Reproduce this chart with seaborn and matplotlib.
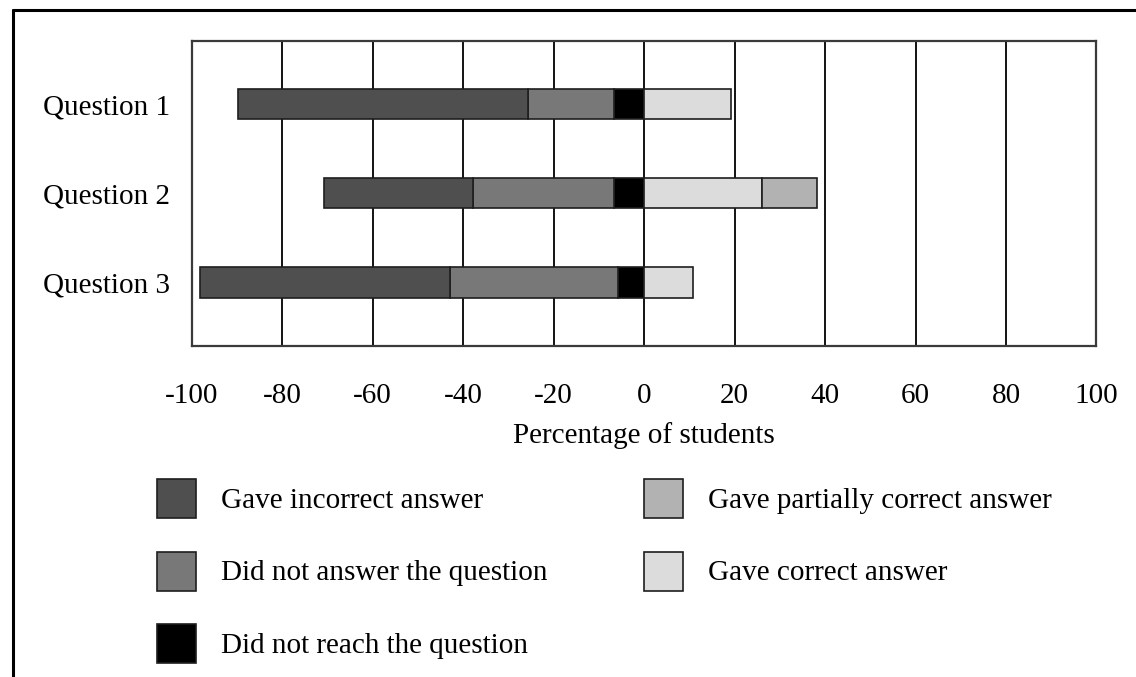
import numpy as np
import pandas as pd
import matplotlib
matplotlib.use("Agg")
import matplotlib.pyplot as plt
import seaborn as sns
from matplotlib.patches import Patch
from matplotlib.lines import Line2D

# ---------------- data (percentages) ----------------
questions = ["Question 1", "Question 2", "Question 3"]
gave_incorrect = [64.2, 32.8, 55.3]
did_not_answer = [18.9, 31.2, 37.0]
did_not_reach = [6.7, 6.7, 5.8]
gave_correct = [19.1, 26.1, 10.7]
gave_partial = [0.0, 12.1, 0.0]

x_ticks = [-100, -80, -60, -40, -20, 0, 20, 40, 60, 80, 100]
x_label = "Percentage of students"

lab_incorrect = "Gave incorrect answer"
lab_not_answer = "Did not answer the question"
lab_not_reach = "Did not reach the question"
lab_partial = "Gave partially correct answer"
lab_correct = "Gave correct answer"

col_incorrect = "#4f4f4f"
col_not_answer = "#787878"
col_not_reach = "#000000"
col_partial = "#b2b2b2"
col_correct = "#dcdcdc"
edge_col = "#1e1e1e"

# ---------------- style ----------------
sns.set_theme(style="white")
plt.rcParams["font.family"] = ["Liberation Serif", "DejaVu Serif"]
FS = 21

W, H = 1136, 677
fig = plt.figure(figsize=(W / 100, H / 100), dpi=100)
fig.patch.set_facecolor("white")

ax_l, ax_r, ax_t, ax_b = 191.7, 1096.5, 40.7, 345.7
ax = fig.add_axes([ax_l / W, 1 - ax_b / H, (ax_r - ax_l) / W, (ax_b - ax_t) / H])

# build segments: diverging stacked bars
inc = np.array(gave_incorrect)
na = np.array(did_not_answer)
nr = np.array(did_not_reach)
cor = np.array(gave_correct)
par = np.array(gave_partial)

segments = [
    (lab_not_reach, -nr, np.zeros(3), col_not_reach),
    (lab_not_answer, -na, -nr, col_not_answer),
    (lab_incorrect, -inc, -(nr + na), col_incorrect),
    (lab_correct, cor, np.zeros(3), col_correct),
    (lab_partial, par, cor, col_partial),
]

for name, widths, lefts, col in segments:
    df = pd.DataFrame({"question": questions, "value": widths, "left": lefts})
    df["pos"] = [questions.index(q) for q in df["question"]]
    df = df[df["value"] != 0].sort_values("pos")
    if df.empty:
        continue
    sns.barplot(
        data=df, x="value", y="question", order=questions, orient="h",
        left=df["left"].values, color=col, saturation=1, width=0.34,
        errorbar=None, edgecolor=edge_col, linewidth=1.2, ax=ax, zorder=3,
    )

ax.set_xlim(-100, 100)
ax.set_ylim(2.71, -0.71)
ax.set_xticks(x_ticks)
ax.set_xticklabels([str(t) for t in x_ticks])
ax.grid(axis="x", color="black", linewidth=1.3, zorder=0)
ax.grid(axis="y", visible=False)
ax.set_axisbelow(True)
for s in ax.spines.values():
    s.set_color("#3a3a3a")
    s.set_linewidth(1.6)
ax.tick_params(axis="x", length=0, pad=26.5, labelsize=FS, colors="black")
ax.tick_params(axis="y", length=0, pad=15.8, labelsize=FS, colors="black")
ax.set_ylabel("")
ax.set_xlabel(x_label, fontsize=FS, color="black")
ax.xaxis.set_label_coords(0.5, -0.250)

# ---------------- legend (two columns) ----------------
def patch(c):
    return Patch(facecolor=c, edgecolor=edge_col, linewidth=1.2)

fs_px = FS * 100 / 72
box = 39.0
# matplotlib legend handle height = fs*hh - 0.35*fs*(hh - 0.7)
hh = (box / fs_px - 0.245) / 0.65
leg_kw = dict(
    loc="upper left", frameon=False, fontsize=FS, borderpad=0, borderaxespad=0,
    handlelength=box / fs_px, handleheight=hh, handletextpad=25 / fs_px,
    labelspacing=33.5 / fs_px, labelcolor="black",
)
leg1 = fig.legend(
    [patch(col_incorrect), patch(col_not_answer), patch(col_not_reach)],
    [lab_incorrect, lab_not_answer, lab_not_reach],
    bbox_to_anchor=(157 / W, 1 - 479 / H), **leg_kw,
)
leg2 = fig.legend(
    [patch(col_partial), patch(col_correct)],
    [lab_partial, lab_correct],
    bbox_to_anchor=(644 / W, 1 - 479 / H), **leg_kw,
)

# outer frame (top and left only, as in the cropped reference)
lw_frame = 2.2
fig.add_artist(Line2D([13 / W, 1.0], [1 - 10 / H, 1 - 10 / H], transform=fig.transFigure,
                      color="black", linewidth=lw_frame))
fig.add_artist(Line2D([13 / W, 13 / W], [1 - 10 / H, 0.0], transform=fig.transFigure,
                      color="black", linewidth=lw_frame))

fig.savefig("out.png", dpi=100, facecolor="white")
